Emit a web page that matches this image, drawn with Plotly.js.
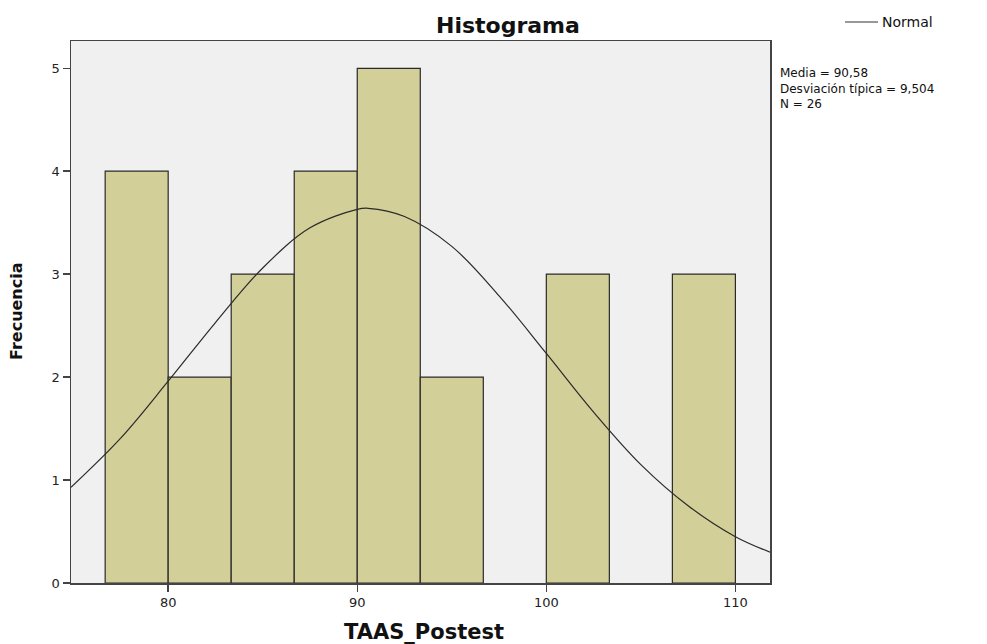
<!DOCTYPE html>
<html>
<head>
<meta charset="utf-8">
<script src="https://cdn.plot.ly/plotly-3.0.1.min.js"></script>
<style>html,body{margin:0;padding:0;background:#fff;}#chart{width:987px;height:644px;}</style>
</head>
<body>
<div id="chart"></div>
<script>
// Histogram bins (edges) and counts
const binEdges = [76.667, 80, 83.333, 86.667, 90, 93.333, 96.667, 100, 103.333, 106.667, 110];
const counts = [4, 2, 3, 4, 5, 2, 0, 3, 0, 3];
// Normal curve points
const curveX = [74.86, 77.5, 80, 82.5, 85, 87.5, 90, 90.58, 92.5, 95, 97.5, 100, 102.5, 105, 107.5, 110, 111.83];
const curveY = [0.93, 1.41, 1.96, 2.53, 3.06, 3.45, 3.63, 3.64, 3.56, 3.27, 2.79, 2.23, 1.66, 1.15, 0.75, 0.45, 0.30];
const statsLines = ["Media = 90,58", "Desviación típica = 9,504", "N = 26"];
const xTicks = [80, 90, 100, 110];
const yTicks = [0, 1, 2, 3, 4, 5];

const centers = [], widths = [], lineW = [];
for (let i = 0; i < counts.length; i++) {
  centers.push((binEdges[i] + binEdges[i + 1]) / 2);
  widths.push(binEdges[i + 1] - binEdges[i]);
  lineW.push(counts[i] > 0 ? 1.2 : 0);
}

const traces = [
  {
    type: 'bar', x: centers, y: counts, width: widths,
    marker: {color: '#d3cf98', line: {color: '#2a2a2a', width: lineW}},
    hoverinfo: 'x+y', showlegend: false
  },
  {
    type: 'scatter', mode: 'lines', x: curveX, y: curveY,
    line: {color: '#2a2a2a', width: 1.2, shape: 'spline'},
    showlegend: false
  }
];

const font = 'DejaVu Sans, Arial, sans-serif';
const L = 71, T = 41, W = 699, H = 542;
const px = v => (v - L) / W;

const annotations = [
  {text: '<b>Histograma</b>', xref: 'paper', yref: 'paper', x: px(508), y: 1, yshift: 16,
   xanchor: 'center', yanchor: 'middle', showarrow: false, font: {family: font, size: 22, color: '#111'}},
  {text: 'Normal', xref: 'paper', yref: 'paper', x: px(880), y: 1, yshift: 19,
   xanchor: 'left', yanchor: 'middle', showarrow: false, font: {family: font, size: 14, color: '#111'}},
  {text: '<b>TAAS_Postest</b>', xref: 'paper', yref: 'paper', x: px(424), y: 0, yshift: -49,
   xanchor: 'center', yanchor: 'middle', showarrow: false, font: {family: font, size: 21, color: '#111'}},
  {text: '<b>Frecuencia</b>', xref: 'paper', yref: 'paper', x: 0, xshift: -55, y: (583 - 311) / H,
   xanchor: 'center', yanchor: 'middle', textangle: -90, showarrow: false, font: {family: font, size: 16, color: '#111'}},
  {text: statsLines.join('<br>'), xref: 'paper', yref: 'paper', x: px(779), y: 1, yshift: -(88 - T),
   xanchor: 'left', yanchor: 'middle', align: 'left', showarrow: false, borderpad: 0,
   font: {family: font, size: 12, color: '#111'}}
];

const layout = {
  width: 987, height: 644,
  margin: {l: L, r: 987 - L - W, t: T, b: 644 - T - H},
  paper_bgcolor: '#ffffff', plot_bgcolor: '#f0f0f0',
  font: {family: font, size: 13, color: '#222'},
  bargap: 0,
  xaxis: {
    range: [74.86, 111.83], tickvals: xTicks, ticktext: xTicks.map(String),
    showgrid: false, zeroline: false, showline: true, linecolor: '#444', linewidth: 1.5,
    mirror: true, ticks: 'outside', ticklen: 7, tickcolor: '#444', tickwidth: 1.5,
    tickfont: {family: font, size: 13, color: '#222'}
  },
  yaxis: {
    range: [0, 5.265], tickvals: yTicks, ticktext: yTicks.map(String),
    showgrid: false, zeroline: false, showline: true, linecolor: '#444', linewidth: 1.5,
    mirror: true, ticks: 'outside', ticklen: 7, tickcolor: '#444', tickwidth: 1.5,
    tickfont: {family: font, size: 13, color: '#222'}
  },
  annotations: annotations,
  shapes: [
    {type: 'line', xref: 'paper', yref: 'paper', ysizemode: 'pixel', yanchor: 1,
     x0: px(845), x1: px(878), y0: 19, y1: 19, line: {color: '#333', width: 1.2}}
  ]
};

Plotly.newPlot('chart', traces, layout, {displayModeBar: false, staticPlot: true});
</script>
</body>
</html>
